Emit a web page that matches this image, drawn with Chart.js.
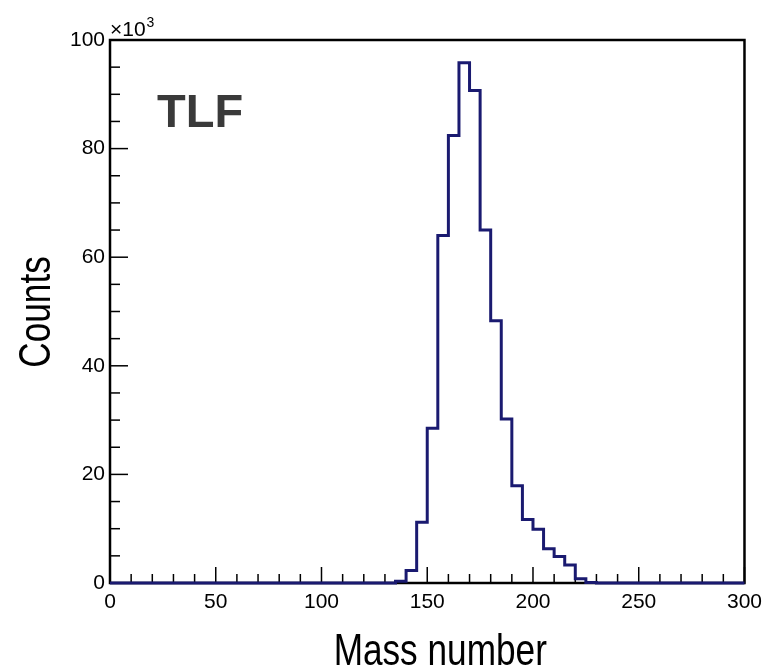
<!DOCTYPE html>
<html>
<head>
<meta charset="utf-8">
<script src="https://cdn.jsdelivr.net/npm/chart.js@4.4.1/dist/chart.umd.min.js"></script>
<style>
html,body{margin:0;padding:0;background:#fff;}
#wrap{width:769px;height:668px;position:relative;}
</style>
</head>
<body>
<div id="wrap"><canvas id="c" width="769" height="668"></canvas></div>
<script>
// Bin low edges (Mass number), bin width 5
const binLowEdges = [0,5,10,15,20,25,30,35,40,45,50,55,60,65,70,75,80,85,90,95,
  100,105,110,115,120,125,130,135,140,145,150,155,160,165,170,175,180,185,190,195,
  200,205,210,215,220,225,230,235,240,245,250,255,260,265,270,275,280,285,290,295];
// Counts per bin (x10^3)
const countsK = [0,0,0,0,0,0,0,0,0,0,0,0,0,0,0,0,0,0,0,0,
  0,0,0,0,0,0,0,0.3,2.3,11.2,28.5,64.0,82.4,95.8,90.7,65.0,48.3,30.2,17.9,11.7,
  9.9,6.3,4.9,3.3,0.8,0.1,0,0,0,0,0,0,0,0,0,0,0,0,0,0];
const xTickLabels = ["0","50","100","150","200","250","300"];
const yTickLabels = ["0","20","40","60","80","100"];
const xRange = [0, 300];
const yRange = [0, 100];
const xTitle = "Mass number";
const yTitle = "Counts";
const labelText = "TLF";
const multiplierBase = "×10";
const multiplierExp = "3";

const points = binLowEdges.map((e, i) => ({x: e, y: countsK[i]}));
points.push({x: xRange[1], y: countsK[countsK.length - 1]});

const framePlugin = {
  id: 'frame',
  beforeDatasetsDraw(chart) {
    const {ctx, chartArea: a, scales: {x, y}} = chart;
    ctx.save();
    ctx.strokeStyle = '#000';
    ctx.lineWidth = 1.5;
    for (let v = xRange[0]; v <= xRange[1]; v += 10) {
      const px = x.getPixelForValue(v);
      const len = (v % 50 === 0) ? 16 : 9;
      ctx.beginPath(); ctx.moveTo(px, a.bottom); ctx.lineTo(px, a.bottom - len); ctx.stroke();
    }
    for (let v = yRange[0]; v <= yRange[1]; v += 5) {
      const py = y.getPixelForValue(v);
      const len = (v % 20 === 0) ? 18 : 10;
      ctx.beginPath(); ctx.moveTo(a.left, py); ctx.lineTo(a.left + len, py); ctx.stroke();
    }
    ctx.lineWidth = 2.5;
    ctx.strokeRect(a.left, a.top, a.right - a.left, a.bottom - a.top);
    ctx.restore();
  },
  afterDraw(chart) {
    const {ctx, chartArea: a} = chart;
    ctx.save();
    // in-plot label
    ctx.fillStyle = '#3a3a3a';
    ctx.font = 'bold 47px "Liberation Sans", Arial, sans-serif';
    ctx.textBaseline = 'alphabetic';
    ctx.textAlign = 'left';
    ctx.fillText(labelText, 157, 127);
    // multiplier
    ctx.fillStyle = '#000';
    ctx.font = '21px "Liberation Sans", Arial, sans-serif';
    ctx.fillText(multiplierBase, a.left, 36);
    const w = ctx.measureText(multiplierBase).width;
    ctx.font = '14px "Liberation Sans", Arial, sans-serif';
    ctx.fillText(multiplierExp, a.left + w + 1, 27);
    // axis titles (condensed Helvetica-like)
    ctx.font = '44px "Liberation Sans", Arial, sans-serif';
    ctx.textAlign = 'center';
    ctx.save();
    ctx.translate((a.left + a.right) / 2 + 13, 665);
    ctx.scale(0.8, 1);
    ctx.fillText(xTitle, 0, 0);
    ctx.restore();
    ctx.save();
    ctx.translate(50, 312);
    ctx.rotate(-Math.PI / 2);
    ctx.scale(0.8, 1);
    ctx.fillText(yTitle, 0, 0);
    ctx.restore();
    ctx.restore();
  }
};

new Chart(document.getElementById('c'), {
  type: 'line',
  data: {
    datasets: [{
      data: points,
      stepped: 'before',
      borderColor: '#1a1a70',
      borderWidth: 3,
      pointRadius: 0,
      fill: false,
      clip: 4
    }]
  },
  options: {
    responsive: false,
    animation: false,
    events: [],
    layout: {padding: {top: 40, right: 24, left: 0, bottom: 0}},
    plugins: {legend: {display: false}, tooltip: {enabled: false}},
    scales: {
      x: {
        type: 'linear', min: xRange[0], max: xRange[1],
        grid: {display: false, drawTicks: false},
        border: {display: false},
        afterFit: s => { s.height = 85; },
        afterBuildTicks: s => { s.ticks = xTickLabels.map(t => ({value: Number(t)})); },
        ticks: {
          padding: 7,
          color: '#000',
          maxRotation: 0,
          autoSkip: false,
          font: {family: '"Liberation Sans", Arial, sans-serif', size: 21},
          callback: (v) => xTickLabels[xTickLabels.indexOf(String(v))]
        },
        title: {display: false}
      },
      y: {
        type: 'linear', min: yRange[0], max: yRange[1],
        grid: {display: false, drawTicks: false},
        border: {display: false},
        afterFit: s => { s.width = 110; },
        afterBuildTicks: s => { s.ticks = yTickLabels.map(t => ({value: Number(t)})); },
        ticks: {
          padding: 5,
          color: '#000',
          autoSkip: false,
          font: {family: '"Liberation Sans", Arial, sans-serif', size: 21},
          callback: (v) => yTickLabels[yTickLabels.indexOf(String(v))]
        },
        title: {display: false}
      }
    }
  },
  plugins: [framePlugin]
});
</script>
</body>
</html>
